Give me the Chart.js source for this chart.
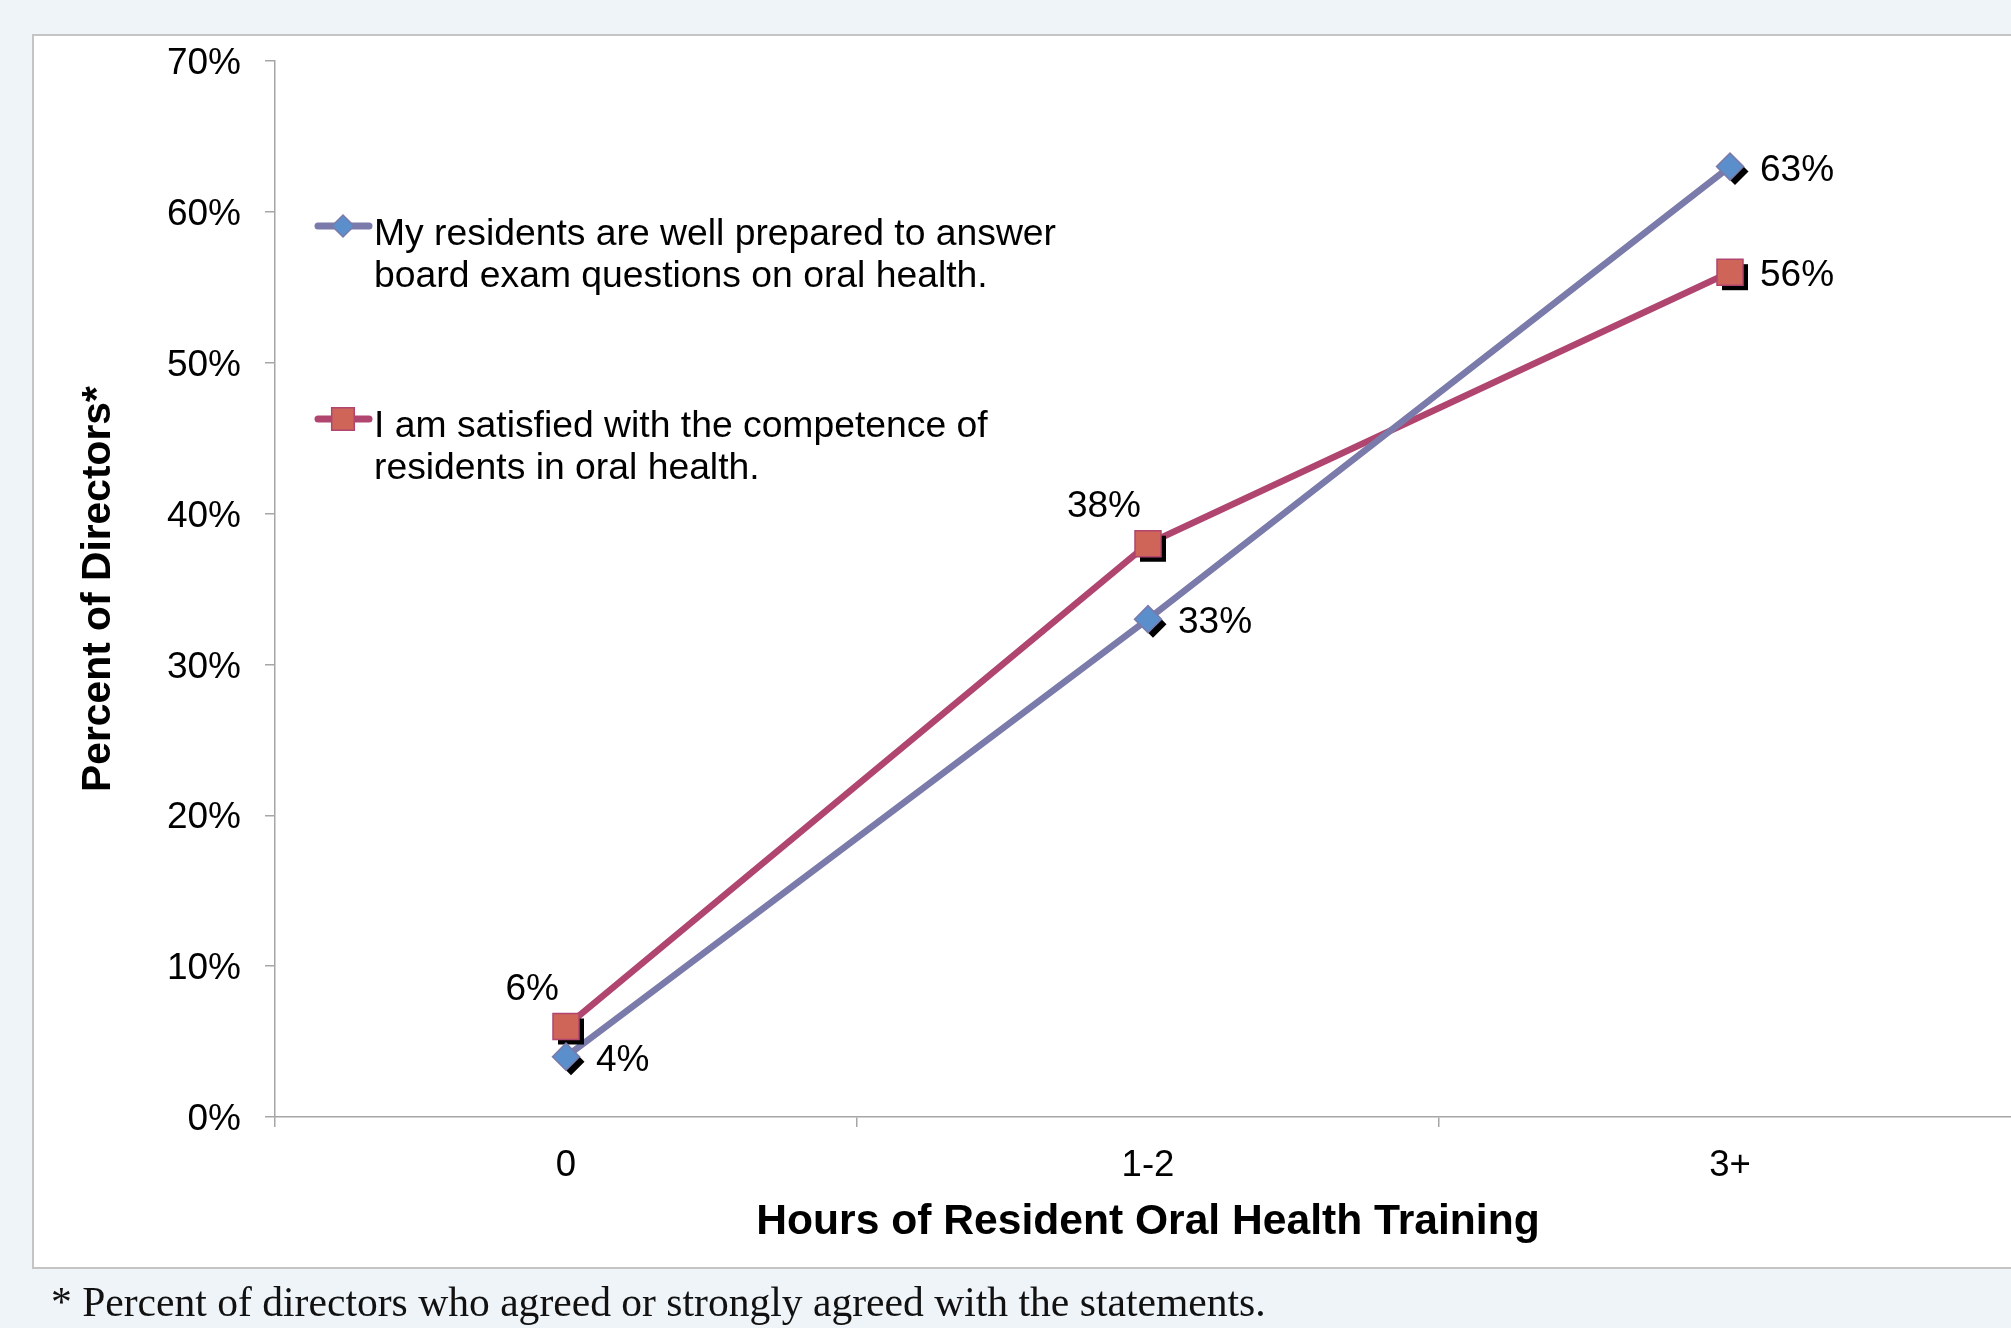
<!DOCTYPE html>
<html>
<head>
<meta charset="utf-8">
<script src="https://cdn.jsdelivr.net/npm/chart.js@4/dist/chart.umd.min.js"></script>
<style>
html,body{margin:0;padding:0;overflow:hidden;background:#eff4f8;}
canvas{position:absolute;left:0;top:0;}
</style>
</head>
<body>
<canvas id="c" width="2040" height="1328" style="width:2040px;height:1328px"></canvas>
<script>
// ---- data ----
const categories = ['0', '1-2', '3+'];
const preparedValues = [4, 33, 63];
const satisfiedValues = [6, 38, 56];
const seriesNames = [
  ['My residents are well prepared to answer', 'board exam questions on oral health.'],
  ['I am satisfied with the competence of', 'residents in oral health.']
];
const yTickMin = 0;
const yTickMax = 70;
const yTickStep = 10;
const xTitle = 'Hours of Resident Oral Health Training';
const yTitle = 'Percent of Directors*';
const footnote = '* Percent of directors who agreed or strongly agreed with the statements.';

// ---- styles ----
const FONT = "'Liberation Sans', Arial, Helvetica, sans-serif";
const SERIF = "'Liberation Serif', 'Times New Roman', serif";
const AXIS = '#a6a6a6';
const styles = [
  {line: '#7a7aab', fill: '#5b8fcb', style: 'rectRot', r: 13.5, legendR: 11},
  {line: '#b0466f', fill: '#cf6459', style: 'rect', r: 18.4, legendR: 16}
];
// label placement per series/point: 'right' or 'aboveLeft'
const labelPlacement = [
  ['right', 'right', 'right'],
  ['aboveLeft', 'aboveLeft', 'right']
];

function shapePath(ctx, style, r, x, y) {
  ctx.beginPath();
  if (style === 'rectRot') {
    ctx.moveTo(x - r, y); ctx.lineTo(x, y - r); ctx.lineTo(x + r, y); ctx.lineTo(x, y + r); ctx.closePath();
  } else {
    const s = r * Math.SQRT1_2;
    ctx.rect(x - s, y - s, 2 * s, 2 * s);
  }
}

const pagePlugin = {
  id: 'page',
  beforeDraw(chart) {
    const ctx = chart.ctx;
    ctx.save();
    ctx.fillStyle = '#eff4f8';
    ctx.fillRect(0, 0, chart.width, chart.height);
    ctx.fillStyle = '#ffffff';
    ctx.fillRect(33, 35, chart.width, 1233);
    ctx.strokeStyle = '#c4c4c4';
    ctx.lineWidth = 2;
    ctx.beginPath();
    ctx.moveTo(chart.width + 5, 35); ctx.lineTo(33, 35); ctx.lineTo(33, 1268); ctx.lineTo(chart.width + 5, 1268);
    ctx.stroke();
    ctx.restore();
  },
  afterDraw(chart) {
    const ctx = chart.ctx;
    ctx.save();
    ctx.fillStyle = '#111';
    ctx.font = '40px ' + SERIF;
    const w = ctx.measureText(footnote).width;
    const size = 40 * 1215 / w;
    ctx.font = size.toFixed(2) + 'px ' + SERIF;
    ctx.textBaseline = 'alphabetic';
    ctx.textAlign = 'left';
    ctx.fillText(footnote, 51, 1316);
    ctx.restore();
  }
};

const markerPlugin = {
  id: 'markers',
  afterDatasetsDraw(chart) {
    const ctx = chart.ctx;
    const order = chart.data.datasets.map((d, i) => i).reverse();
    // shadows
    order.forEach(i => {
      const st = styles[i];
      chart.getDatasetMeta(i).data.forEach(pt => {
        ctx.save();
        ctx.fillStyle = '#000';
        shapePath(ctx, st.style, st.r, pt.x + 5, pt.y + 5);
        ctx.fill();
        ctx.restore();
      });
    });
    // markers
    order.forEach(i => {
      const st = styles[i];
      chart.getDatasetMeta(i).data.forEach(pt => {
        ctx.save();
        ctx.fillStyle = st.fill;
        ctx.strokeStyle = st.line;
        ctx.lineWidth = 1.5;
        shapePath(ctx, st.style, st.r, pt.x, pt.y);
        ctx.fill(); ctx.stroke();
        ctx.restore();
      });
    });
    // data labels
    ctx.save();
    ctx.fillStyle = '#000';
    ctx.font = '37px ' + FONT;
    ctx.textBaseline = 'middle';
    chart.data.datasets.forEach((ds, i) => {
      chart.getDatasetMeta(i).data.forEach((pt, j) => {
        const txt = ds.data[j] + '%';
        if (labelPlacement[i][j] === 'right') {
          ctx.textAlign = 'left';
          ctx.fillText(txt, pt.x + 30, pt.y + 4);
        } else {
          ctx.textAlign = 'right';
          ctx.fillText(txt, pt.x - 7, pt.y - 37);
        }
      });
    });
    ctx.restore();
    // legend
    const legendPos = [{y: 226, t: 245}, {y: 419, t: 437}];
    ctx.save();
    chart.data.datasets.forEach((ds, i) => {
      const st = styles[i];
      const p = legendPos[i];
      ctx.strokeStyle = st.line;
      ctx.lineWidth = 7;
      ctx.lineCap = 'round';
      ctx.beginPath(); ctx.moveTo(318, p.y); ctx.lineTo(369, p.y); ctx.stroke();
      ctx.fillStyle = st.fill;
      ctx.lineWidth = 1.5;
      shapePath(ctx, st.style, st.legendR, 343, p.y);
      ctx.fill(); ctx.stroke();
      ctx.fillStyle = '#000';
      ctx.font = '37.3px ' + FONT;
      ctx.textAlign = 'left';
      ctx.textBaseline = 'alphabetic';
      ds.label.forEach((line, k) => ctx.fillText(line, 374, p.t + k * 42));
    });
    ctx.restore();
  }
};

new Chart(document.getElementById('c'), {
  type: 'line',
  data: {
    labels: categories,
    datasets: [
      {label: seriesNames[0], data: preparedValues, borderColor: styles[0].line, borderWidth: 6.5, pointRadius: 0, pointHoverRadius: 0, tension: 0, fill: false},
      {label: seriesNames[1], data: satisfiedValues, borderColor: styles[1].line, borderWidth: 6.5, pointRadius: 0, pointHoverRadius: 0, tension: 0, fill: false}
    ]
  },
  options: {
    responsive: false,
    animation: false,
    devicePixelRatio: 1,
    events: [],
    layout: {padding: {left: 33, top: 61, right: 19, bottom: 60}},
    plugins: {legend: {display: false}, tooltip: {enabled: false}},
    scales: {
      x: {
        type: 'category',
        offset: true,
        grid: {offset: true, drawOnChartArea: false, color: AXIS, lineWidth: 1.5, tickLength: 10},
        border: {display: true, color: AXIS, width: 1.5},
        ticks: {color: '#000', font: {family: FONT, size: 36.5}, padding: 17, maxRotation: 0},
        title: {display: true, text: xTitle, color: '#000', font: {family: FONT, size: 42.6, weight: 'bold'}, padding: {top: 0, bottom: 20}},
        afterFit(s) { s.height = 151; }
      },
      y: {
        min: yTickMin,
        max: yTickMax,
        grid: {drawOnChartArea: false, color: AXIS, lineWidth: 1.5, tickLength: 10},
        border: {display: true, color: AXIS, width: 1.5},
        ticks: {stepSize: yTickStep, color: '#000', font: {family: FONT, size: 37}, padding: 24, labelOffset: 3, callback: v => v + '%'},
        title: {display: true, text: yTitle, color: '#000', font: {family: FONT, size: 40.8, weight: 'bold'}, padding: {top: 41, bottom: 0}},
        afterFit(s) { s.width = 242; }
      }
    }
  },
  plugins: [pagePlugin, markerPlugin]
});
</script>
</body>
</html>
